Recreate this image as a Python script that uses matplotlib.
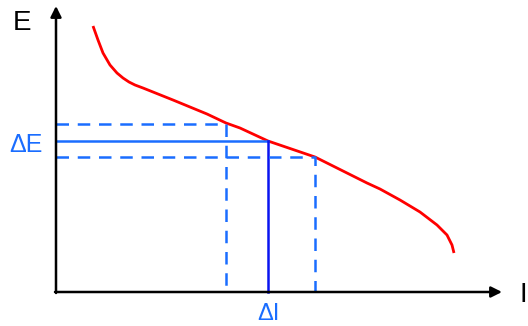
import matplotlib.pyplot as plt

plt.rcParams['font.family'] = ['Liberation Sans', 'DejaVu Sans']

# characteristic curve E(I), arbitrary units
curve_i = [0.37, 0.42, 0.47, 0.54, 0.61, 0.67, 0.73, 0.79, 0.87, 1.17, 1.51, 1.70,
           1.84, 2.12, 2.59, 2.77, 3.11, 3.24, 3.44, 3.64, 3.81, 3.91, 3.96, 3.98]
curve_e = [2.66, 2.52, 2.39, 2.27, 2.19, 2.14, 2.10, 2.07, 2.04, 1.92, 1.78, 1.69,
           1.64, 1.51, 1.35, 1.26, 1.09, 1.03, 0.92, 0.80, 0.67, 0.57, 0.47, 0.39]

i0, e0 = 2.12, 1.51          # working point
i_lo, e_hi = 1.70, 1.68      # dashed left point
i_hi, e_lo = 2.59, 1.35      # dashed right point

blue = '#1a6dff'

fig = plt.figure(figsize=(5.28, 3.26), dpi=100)
ax = fig.add_axes([0, 0, 1, 1])
ax.set_xlim(-0.56, 4.72)
ax.set_ylim(-0.34, 2.92)
ax.axis('off')

# axes with arrows
ax.annotate('', xy=(4.46, 0), xytext=(-0.01, 0),
            arrowprops=dict(arrowstyle='-|>', lw=1.8, color='k', mutation_scale=16, shrinkA=0, shrinkB=0))
ax.annotate('', xy=(0, 2.86), xytext=(0, -0.01),
            arrowprops=dict(arrowstyle='-|>', lw=1.8, color='k', mutation_scale=16, shrinkA=0, shrinkB=0))

ax.plot(curve_i, curve_e, color='red', lw=2.0, solid_joinstyle='round', solid_capstyle='butt')

# working point lines
ax.plot([0, i0], [e0, e0], color=blue, lw=1.8)
ax.plot([i0, i0], [e0, 0], color='#0a14f0', lw=1.8)

dash = (0, (5, 3.5))
ax.plot([0, i_lo, i_lo], [e_hi, e_hi, 0], color=blue, lw=1.8, linestyle=dash)
ax.plot([0, i_hi, i_hi], [e_lo, e_lo, 0], color=blue, lw=1.8, linestyle=dash)

ax.text(-0.34, 2.69, 'E', fontsize=20, ha='center', va='center')
ax.text(4.67, -0.03, 'I', fontsize=20, ha='center', va='center')
ax.text(-0.30, 1.47, 'ΔE', fontsize=18, color=blue, ha='center', va='center')
ax.text(i0, -0.225, 'ΔI', fontsize=17, color=blue, ha='center', va='center')

fig.savefig('out.png', dpi=100)
